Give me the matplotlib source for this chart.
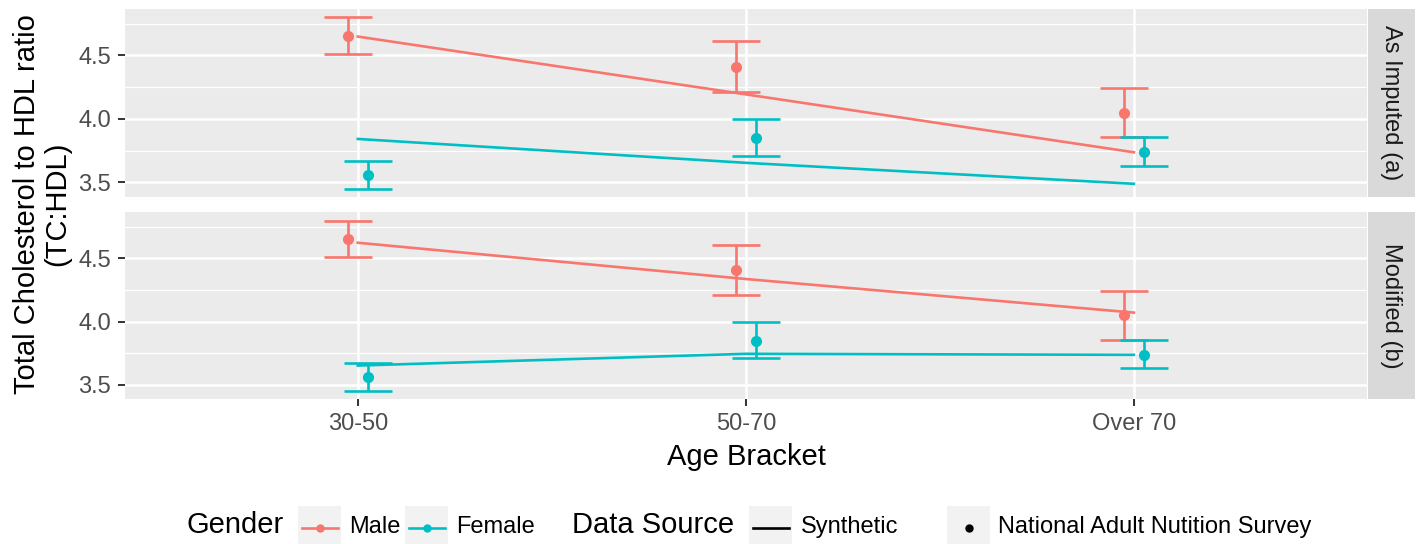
import matplotlib
matplotlib.use("Agg")
import matplotlib.pyplot as plt
from matplotlib.patches import Rectangle

plt.rcParams['font.family'] = ['Liberation Sans', 'DejaVu Sans']

# data
ages = ["30-50", "50-70", "Over 70"]
panels = ["As Imputed (a)", "Modified (b)"]

# National Adult Nutrition Survey: mean and interval (same in both panels)
survey_male = [4.652, 4.41, 4.05]
survey_male_lo = [4.511, 4.21, 3.858]
survey_male_hi = [4.80, 4.61, 4.242]
survey_female = [3.56, 3.848, 3.739]
survey_female_lo = [3.448, 3.709, 3.632]
survey_female_hi = [3.670, 4.0, 3.858]

# synthetic data lines per panel
synth_male = {"As Imputed (a)": [4.648, 4.193, 3.737],
              "Modified (b)": [4.624, 4.337, 4.071]}
synth_female = {"As Imputed (a)": [3.842, 3.654, 3.489],
                "Modified (b)": [3.652, 3.745, 3.737]}

MALE = "#F8766D"
FEMALE = "#00BFC4"
W, H = 1419, 544
LW = 1.9

fig = plt.figure(figsize=(W / 100, H / 100), dpi=100)

left = 125 / W
width = (1366.7 - 125) / W
rects = [(9, 197), (212.3, 399.3)]
dodge = 0.026

for i, name in enumerate(panels):
    top, bot = rects[i]
    ax = fig.add_axes([left, 1 - bot / H, width, (bot - top) / H])
    ax.set_facecolor("#EBEBEB")
    for s in ax.spines.values():
        s.set_visible(False)
    ax.set_xlim(-0.6, 2.6)
    ax.set_ylim(3.385, 4.865)
    ax.set_xticks(range(len(ages)))
    ax.set_yticks([3.5, 4.0, 4.5])
    ax.set_yticks([3.75, 4.25, 4.75], minor=True)
    ax.set_yticklabels(["3.5", "4.0", "4.5"])
    ax.grid(which="major", color="white", lw=1.8)
    ax.grid(which="minor", axis="y", color="white", lw=0.9)
    ax.set_axisbelow(True)
    ax.tick_params(which="major", length=5, width=1.4, color="#333333",
                   labelsize=17, labelcolor="#4D4D4D", pad=5)
    ax.tick_params(which="minor", length=0)
    if i == 0:
        ax.tick_params(axis="x", length=0, labelbottom=False)
    else:
        ax.set_xticklabels(ages)

    xs = list(range(len(ages)))
    ax.plot(xs, synth_male[name], color=MALE, lw=LW, zorder=3)
    ax.plot(xs, synth_female[name], color=FEMALE, lw=LW, zorder=3)

    xm = [x - dodge for x in xs]
    xf = [x + dodge for x in xs]
    ax.errorbar(xm, survey_male,
                yerr=[[m - lo for m, lo in zip(survey_male, survey_male_lo)],
                      [hi - m for m, hi in zip(survey_male, survey_male_hi)]],
                fmt="o", color=MALE, ms=7, elinewidth=LW, capsize=17.3,
                capthick=LW, zorder=4)
    ax.errorbar(xf, survey_female,
                yerr=[[m - lo for m, lo in zip(survey_female, survey_female_lo)],
                      [hi - m for m, hi in zip(survey_female, survey_female_hi)]],
                fmt="o", color=FEMALE, ms=7, elinewidth=LW, capsize=17.3,
                capthick=LW, zorder=4)

    # facet strip on the right
    sax = fig.add_axes([1367.5 / W, 1 - bot / H, 47.5 / W, (bot - top) / H])
    sax.set_facecolor("#D9D9D9")
    sax.set_xticks([])
    sax.set_yticks([])
    for s in sax.spines.values():
        s.set_visible(False)
    sax.text(0.5, 0.5, name, rotation=270, ha="center", va="center",
             fontsize=17, color="#1A1A1A", transform=sax.transAxes)

# axis titles
fig.text(746 / W, 1 - 465 / H, "Age Bracket", ha="center", va="baseline",
         fontsize=21, color="black")
fig.text(42 / W, 1 - 204 / H, "Total Cholesterol to HDL ratio\n(TC:HDL)",
         rotation=90, ha="center", va="center", multialignment="center",
         fontsize=21, color="black", linespacing=1.1)

# legend drawn in pixel space
lg = fig.add_axes([0, 0, 1, 1], zorder=-1)
lg.set_xlim(0, W)
lg.set_ylim(H, 0)
lg.axis("off")
base = 533
kc = 527.5
lg.text(186, base, "Gender", fontsize=21, va="baseline")
lg.text(572, base, "Data Source", fontsize=21, va="baseline")
keys = [(298, "Male", MALE, "both"), (405, "Female", FEMALE, "both"),
        (749, "Synthetic", "black", "line"),
        (947, "National Adult Nutition Survey", "black", "point")]
for x0, lab, col, kind in keys:
    lg.add_patch(Rectangle((x0, kc - 21.5), 43, 43, fc="#F2F2F2", ec="none"))
    if kind in ("both", "line"):
        lg.plot([x0 + 3.5, x0 + 39.5], [kc, kc], color=col, lw=LW)
    if kind in ("both", "point"):
        lg.plot([x0 + 21.5], [kc], "o", color=col, ms=5)
    lg.text(x0 + 51.5, base, lab, fontsize=17, va="baseline")

fig.savefig("out.png", dpi=100)
